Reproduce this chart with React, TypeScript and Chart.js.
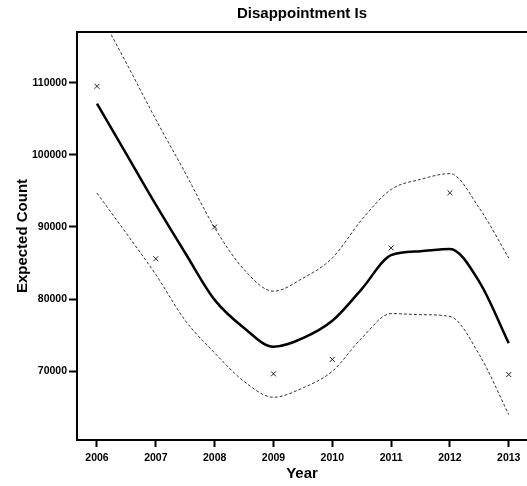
import React, { useEffect, useRef } from "react";
import { Chart, registerables } from "chart.js";

Chart.register(...registerables);

const years = [2006, 2007, 2008, 2009, 2010, 2011, 2012, 2013];
const observed = [109500, 85600, 90000, 69650, 71650, 87100, 94750, 69550];

const curveYears = [2006, 2006.5, 2007, 2007.5, 2008, 2008.5, 2009, 2009.5, 2010, 2010.5, 2011, 2011.5, 2012, 2012.5, 2013];
const fit = [107100, 100100, 93100, 86400, 79900, 76000, 73400, 74600, 77000, 81400, 86100, 86650, 86950, 82400, 73900];
const upper = [120300, 112700, 104900, 97500, 89900, 84100, 81100, 82900, 85700, 91000, 95200, 96600, 97400, 92600, 85700];
const lower = [94700, 89100, 83400, 77050, 72550, 68600, 66400, 67700, 70000, 74600, 78000, 77850, 77600, 72300, 64000];

const yTicks = [70000, 80000, 90000, 100000, 110000];

const titleText = "Disappointment Is";
const xTitle = "Year";
const yTitle = "Expected Count";

const FONT = '"Liberation Sans", Arial, Helvetica, sans-serif';

const topBorder = {
  id: "topBorder",
  afterDraw(chart: any) {
    const { ctx, chartArea } = chart;
    ctx.save();
    ctx.strokeStyle = "#000";
    ctx.lineWidth = 2;
    ctx.beginPath();
    ctx.moveTo(chartArea.left - 1, chartArea.top);
    ctx.lineTo(chartArea.right, chartArea.top);
    ctx.stroke();
    ctx.restore();
  },
};

export default function App() {
  const ref = useRef<HTMLCanvasElement | null>(null);

  useEffect(() => {
    if (!ref.current) return;
    Chart.defaults.font.family = FONT;
    const pts = (xs: number[], ys: number[]) => xs.map((x, i) => ({ x, y: ys[i] }));
    const curve = (label: string, ys: number[], width: number, color: string, dash: number[]) => ({
      label,
      data: pts(curveYears, ys),
      showLine: true,
      pointRadius: 0,
      borderColor: color,
      borderWidth: width,
      borderDash: dash,
      cubicInterpolationMode: "monotone",
    });
    const chart = new Chart(ref.current, {
      type: "scatter",
      data: {
        datasets: [
          {
            label: "Observed",
            data: pts(years, observed),
            pointStyle: "crossRot",
            pointRadius: 3.5,
            borderWidth: 1,
            borderColor: "#222",
            backgroundColor: "#222",
            showLine: false,
          },
          curve("Fit", fit, 2.5, "#000", []),
          curve("Upper", upper, 1, "#333", [3, 2]),
          curve("Lower", lower, 1, "#333", [3, 2]),
        ],
      } as any,
      options: {
        animation: false,
        responsive: false,
        devicePixelRatio: 1,
        layout: { padding: 0, autoPadding: false },
        plugins: {
          legend: { display: false },
          tooltip: { enabled: false },
          title: {
            display: true,
            text: titleText,
            fullSize: false,
            color: "#000",
            font: { family: FONT, size: 15, weight: "bold" },
            padding: { top: 5, bottom: 9 },
          },
        },
        scales: {
          x: {
            type: "linear",
            min: 2005.66,
            max: 2013.31,
            afterFit: (s: any) => {
              s.height = 46;
              s.paddingLeft = 0;
              s.paddingRight = 0;
            },
            afterBuildTicks: (s: any) => {
              s.ticks = years.map((v) => ({ value: v }));
            },
            border: { display: true, color: "#000", width: 2 },
            grid: { drawOnChartArea: false, drawTicks: true, tickLength: 7, tickColor: "#000", tickWidth: 2 },
            ticks: {
              color: "#000",
              padding: 5,
              maxRotation: 0,
              font: { family: FONT, size: 10.5, weight: "bold" },
              callback: (v: any) => String(v),
            },
            title: {
              display: true,
              text: xTitle,
              color: "#000",
              font: { family: FONT, size: 15, weight: "bold" },
              padding: { top: 0, bottom: 3.5 },
            },
          },
          y: {
            type: "linear",
            min: 60478,
            max: 117027,
            afterFit: (s: any) => {
              s.width = 77;
              s.paddingTop = 0;
              s.paddingBottom = 0;
            },
            afterBuildTicks: (s: any) => {
              s.ticks = yTicks.map((v) => ({ value: v }));
            },
            border: { display: true, color: "#000", width: 2 },
            grid: { drawOnChartArea: false, drawTicks: true, tickLength: 8, tickColor: "#000", tickWidth: 2 },
            ticks: {
              color: "#000",
              padding: 2,
              font: { family: FONT, size: 10.5, weight: "bold" },
              callback: (v: any) => String(v),
            },
            title: {
              display: true,
              text: yTitle,
              color: "#000",
              font: { family: FONT, size: 15, weight: "bold" },
              padding: { top: 13.5, bottom: 0 },
            },
          },
        },
      } as any,
      plugins: [topBorder],
    });
    return () => chart.destroy();
  }, []);

  return (
    <div style={{ position: "absolute", left: 0, top: 0, width: 527, height: 486, background: "#fff" }}>
      <canvas ref={ref} width={527} height={486} style={{ width: 527, height: 486, display: "block" }} />
    </div>
  );
}
